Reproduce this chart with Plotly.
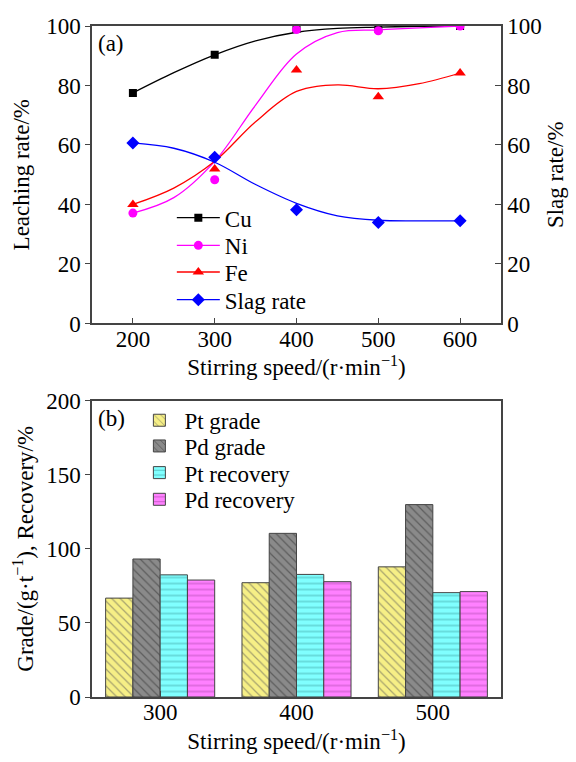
import plotly.graph_objects as go

# ---------------- data: panel (a) ----------------
speed_a = [200, 300, 400, 500, 600]
cu = [77.5, 90.3, 99.1, 99.2, 100.0]
ni = [37.1, 48.3, 98.8, 98.4, 100.0]
fe = [40.0, 51.9, 85.2, 76.2, 84.2]
slag = [60.7, 55.9, 38.2, 33.9, 34.5]

# smoothed fit curves
fit_x = [200, 250, 300, 350, 400, 450, 500, 550, 600]
cu_fit = [77.5, 84.3, 90.3, 95.0, 97.9, 99.2, 99.6, 99.9, 100.0]
ni_fit = [37.1, 42.3, 54.5, 73.4, 90.6, 97.8, 98.7, 99.4, 100.0]
fe_fit = [40.0, 45.5, 54.5, 67.8, 78.0, 80.2, 78.9, 80.6, 84.2]
slag_fit = [60.7, 58.9, 54.2, 46.7, 40.4, 36.2, 34.7, 34.5, 34.5]

# ---------------- data: panel (b) ----------------
speed_b = ["300", "400", "500"]
pt_grade = [66.7, 77.1, 87.8]
pd_grade = [93.1, 110.4, 129.8]
pt_recovery = [82.4, 82.7, 70.4]
pd_recovery = [78.9, 77.8, 71.1]

FONT = "Liberation Serif"
W, H = 576, 762
L, R, T, B = 92, 507, 26, 705


def px(xp):
    return (xp - L) / (R - L)


def py(yp):
    return (B - yp) / (B - T)


fig = go.Figure()
legends = {}

series = [
    ("Cu", cu, cu_fit, "black", "square", 8, "y", 220),
    ("Ni", ni, ni_fit, "#ff00ff", "circle", 9, "y", 248),
    ("Fe", fe, fe_fit, "#ff0000", "triangle-up", 10, "y", 275),
    ("Slag rate", slag, slag_fit, "#0000ff", "diamond", 10, "y2", 303),
]
for i, (name, vals, fit, col, sym, sz, yax, ly) in enumerate(series):
    fig.add_trace(go.Scatter(x=fit_x, y=fit, mode="lines", line=dict(color=col, width=1.3, shape="spline", smoothing=1.0),
                             xaxis="x", yaxis=yax, showlegend=False, hoverinfo="skip"))
    fig.add_trace(go.Scatter(x=speed_a, y=vals, mode="markers", marker=dict(color=col, symbol=sym, size=sz),
                             xaxis="x", yaxis=yax, showlegend=False, name=name))
    lg = "legend" if i == 0 else f"legend{i + 1}"
    # legend entry (line + marker)
    fig.add_trace(go.Scatter(x=[None], y=[None], mode="lines+markers", name=name,
                             line=dict(color=col, width=1.3), marker=dict(color=col, symbol=sym, size=sz),
                             xaxis="x", yaxis=yax, legend=lg))
    legends[lg] = dict(x=px(173), y=py(ly), xanchor="left", yanchor="middle", bgcolor="rgba(0,0,0,0)",
                       font=dict(family=FONT, size=23, color="black"), itemwidth=43)

bars = [
    ("Pt grade", pt_grade, "#f6ef86", "\\", "#555555", 425),
    ("Pd grade", pd_grade, "#8a8a8a", "\\", "#2f2f2f", 451),
    ("Pt recovery", pt_recovery, "#80ffff", "-", "#2c8c8c", 478),
    ("Pd recovery", pd_recovery, "#ff80ff", "-", "#9a3a9a", 505),
]
for j, (name, vals, col, shape, fg, ly) in enumerate(bars):
    lg = f"legend{j + 5}"
    fig.add_trace(go.Bar(x=speed_b, y=vals, name=name, xaxis="x2", yaxis="y3", legend=lg,
                         marker=dict(color=col, line=dict(color="#444444", width=1),
                                     pattern=dict(shape=shape, fgcolor=fg, bgcolor=col, size=6, solidity=0.2))))
    legends[lg] = dict(x=px(135), y=py(ly), xanchor="left", yanchor="middle", bgcolor="rgba(0,0,0,0)",
                       font=dict(family=FONT, size=23, color="black"), itemwidth=40)

tickfont = dict(family=FONT, size=23, color="black")
titlefont = dict(family=FONT, size=23, color="black")
axis_common = dict(showgrid=False, zeroline=False, linecolor="#444444", linewidth=1.5,
                   tickfont=tickfont, tickcolor="#444444")

top_dom = [py(327), 1.0]
bot_dom = [0.0, py(405)]

fig.update_layout(
    width=W, height=H,
    margin=dict(l=L, r=W - R, t=T, b=H - B),
    paper_bgcolor="white", plot_bgcolor="white",
    font=dict(family=FONT, size=23, color="black"),
    barmode="group", bargap=0.2, bargroupgap=0,
    xaxis=dict(axis_common, domain=[0, 1], anchor="y", range=[150, 650], tickvals=[200, 300, 400, 500, 600],
               ticks="inside", ticklen=6, mirror=True, ticklabelstandoff=-6,
               title=dict(text="Stirring speed/(r·min<sup>−1</sup>)", standoff=6, font=titlefont)),
    yaxis=dict(axis_common, domain=top_dom, anchor="x", range=[0, 100], tickvals=[0, 20, 40, 60, 80, 100],
               ticks="outside", ticklen=5,
               title=dict(text="Leaching rate/%", standoff=10, font=titlefont)),
    yaxis2=dict(axis_common, overlaying="y", side="right", anchor="x", range=[0, 100],
                tickvals=[0, 20, 40, 60, 80, 100], ticks="inside", ticklen=6,
                title=dict(text="Slag rate/%", standoff=6, font=titlefont)),
    xaxis2=dict(axis_common, domain=[0, 1], anchor="y3", range=[-0.5, 2.5], type="category",
                ticks="inside", ticklen=6, mirror=True, ticklabelstandoff=-6,
                title=dict(text="Stirring speed/(r·min<sup>−1</sup>)", standoff=9, font=titlefont)),
    yaxis3=dict(axis_common, domain=bot_dom, anchor="x2", range=[0, 200], tickvals=[0, 50, 100, 150, 200],
                ticks="outside", ticklen=5, mirror=True,
                title=dict(text="Grade/(g·t<sup>−1</sup>), Recovery/%", standoff=6, font=titlefont)),
    annotations=[
        dict(text="(a)", x=px(96), y=py(44), xref="paper", yref="paper", xanchor="left", yanchor="middle",
             showarrow=False, font=dict(family=FONT, size=23, color="black")),
        dict(text="(b)", x=px(96), y=py(423), xref="paper", yref="paper", xanchor="left", yanchor="middle",
             showarrow=False, font=dict(family=FONT, size=23, color="black")),
    ],
    **legends,
)

fig.write_html("out.html")
